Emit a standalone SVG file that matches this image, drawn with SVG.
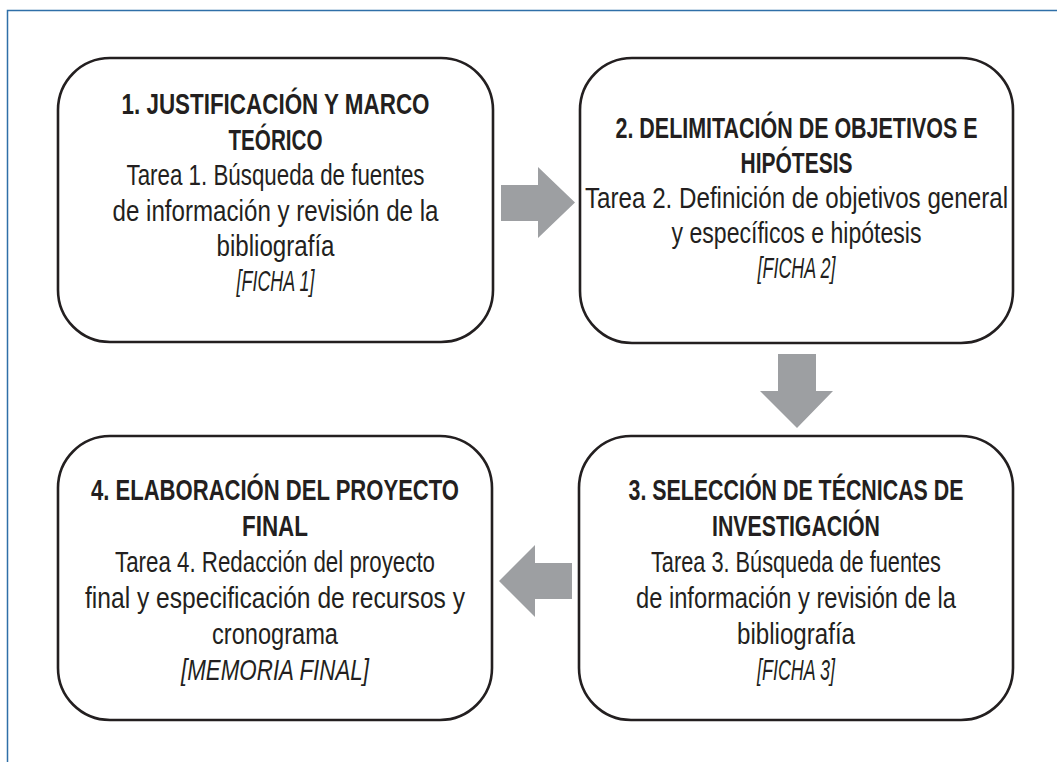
<svg xmlns="http://www.w3.org/2000/svg" width="1057" height="762" viewBox="0 0 1057 762">
<style>
.frame{fill:none;stroke:#2f6fa8;stroke-width:1.5}
.box{fill:#ffffff;stroke:#231f20;stroke-width:2.6}
.arrow{fill:#9d9fa2;stroke:none}
text{font-family:"Liberation Sans",Arial,sans-serif;font-size:29px;fill:#231f20;text-anchor:middle}
.b{font-weight:bold}
.i{font-style:italic}
</style>
<rect width="1057" height="762" fill="#ffffff"/>
<path class="frame" d="M7.5,762 V10.5 H1057"/>
<g id="node1">
<rect class="box" x="58" y="58" width="435" height="284" rx="52" ry="52"/>
<text class="b" x="275.5" y="114" textLength="308" lengthAdjust="spacingAndGlyphs">1. JUSTIFICACIÓN Y MARCO</text>
<text class="b" x="275.5" y="149.5" textLength="94" lengthAdjust="spacingAndGlyphs">TEÓRICO</text>
<text x="275.5" y="185" textLength="298" lengthAdjust="spacingAndGlyphs">Tarea 1. Búsqueda de fuentes</text>
<text x="275.5" y="220.5" textLength="326" lengthAdjust="spacingAndGlyphs">de información y revisión de la</text>
<text x="275.5" y="256" textLength="118" lengthAdjust="spacingAndGlyphs">bibliografía</text>
<text class="i" x="275.5" y="291" textLength="78" lengthAdjust="spacingAndGlyphs">[FICHA 1]</text>
</g>
<g id="node2">
<rect class="box" x="580" y="58" width="433" height="285" rx="52" ry="52"/>
<text class="b" x="796.5" y="138" textLength="362" lengthAdjust="spacingAndGlyphs">2. DELIMITACIÓN DE OBJETIVOS E</text>
<text class="b" x="796.5" y="173" textLength="112" lengthAdjust="spacingAndGlyphs">HIPÓTESIS</text>
<text x="796.5" y="208" textLength="423" lengthAdjust="spacingAndGlyphs">Tarea 2. Definición de objetivos general</text>
<text x="796.5" y="243" textLength="250" lengthAdjust="spacingAndGlyphs">y específicos e hipótesis</text>
<text class="i" x="796.5" y="278" textLength="78" lengthAdjust="spacingAndGlyphs">[FICHA 2]</text>
</g>
<g id="node3">
<rect class="box" x="579" y="436" width="434" height="284" rx="52" ry="52"/>
<text class="b" x="796" y="500" textLength="335" lengthAdjust="spacingAndGlyphs">3. SELECCIÓN DE TÉCNICAS DE</text>
<text class="b" x="796" y="536" textLength="168" lengthAdjust="spacingAndGlyphs">INVESTIGACIÓN</text>
<text x="796" y="572" textLength="290" lengthAdjust="spacingAndGlyphs">Tarea 3. Búsqueda de fuentes</text>
<text x="796" y="608" textLength="320" lengthAdjust="spacingAndGlyphs">de información y revisión de la</text>
<text x="796" y="644" textLength="118" lengthAdjust="spacingAndGlyphs">bibliografía</text>
<text class="i" x="796" y="680" textLength="78" lengthAdjust="spacingAndGlyphs">[FICHA 3]</text>
</g>
<g id="node4">
<rect class="box" x="58" y="436" width="434" height="284" rx="52" ry="52"/>
<text class="b" x="275" y="500" textLength="368" lengthAdjust="spacingAndGlyphs">4. ELABORACIÓN DEL PROYECTO</text>
<text class="b" x="275" y="536" textLength="66" lengthAdjust="spacingAndGlyphs">FINAL</text>
<text x="275" y="572" textLength="320" lengthAdjust="spacingAndGlyphs">Tarea 4. Redacción del proyecto</text>
<text x="275" y="608" textLength="380" lengthAdjust="spacingAndGlyphs">final y especificación de recursos y</text>
<text x="275" y="644" textLength="126" lengthAdjust="spacingAndGlyphs">cronograma</text>
<text class="i" x="275" y="680" textLength="188" lengthAdjust="spacingAndGlyphs">[MEMORIA FINAL]</text>
</g>
<g id="connectors">
<polygon class="arrow" points="501,185 538,185 538,167 575,202.5 538,238 538,221 501,221"/>
<polygon class="arrow" points="778,354 816,354 816,391 833,391 797,428 760,391 778,391"/>
<polygon class="arrow" points="572,563 535,563 535,545 499,581 535,617 535,599 572,599"/>
</g>
</svg>
